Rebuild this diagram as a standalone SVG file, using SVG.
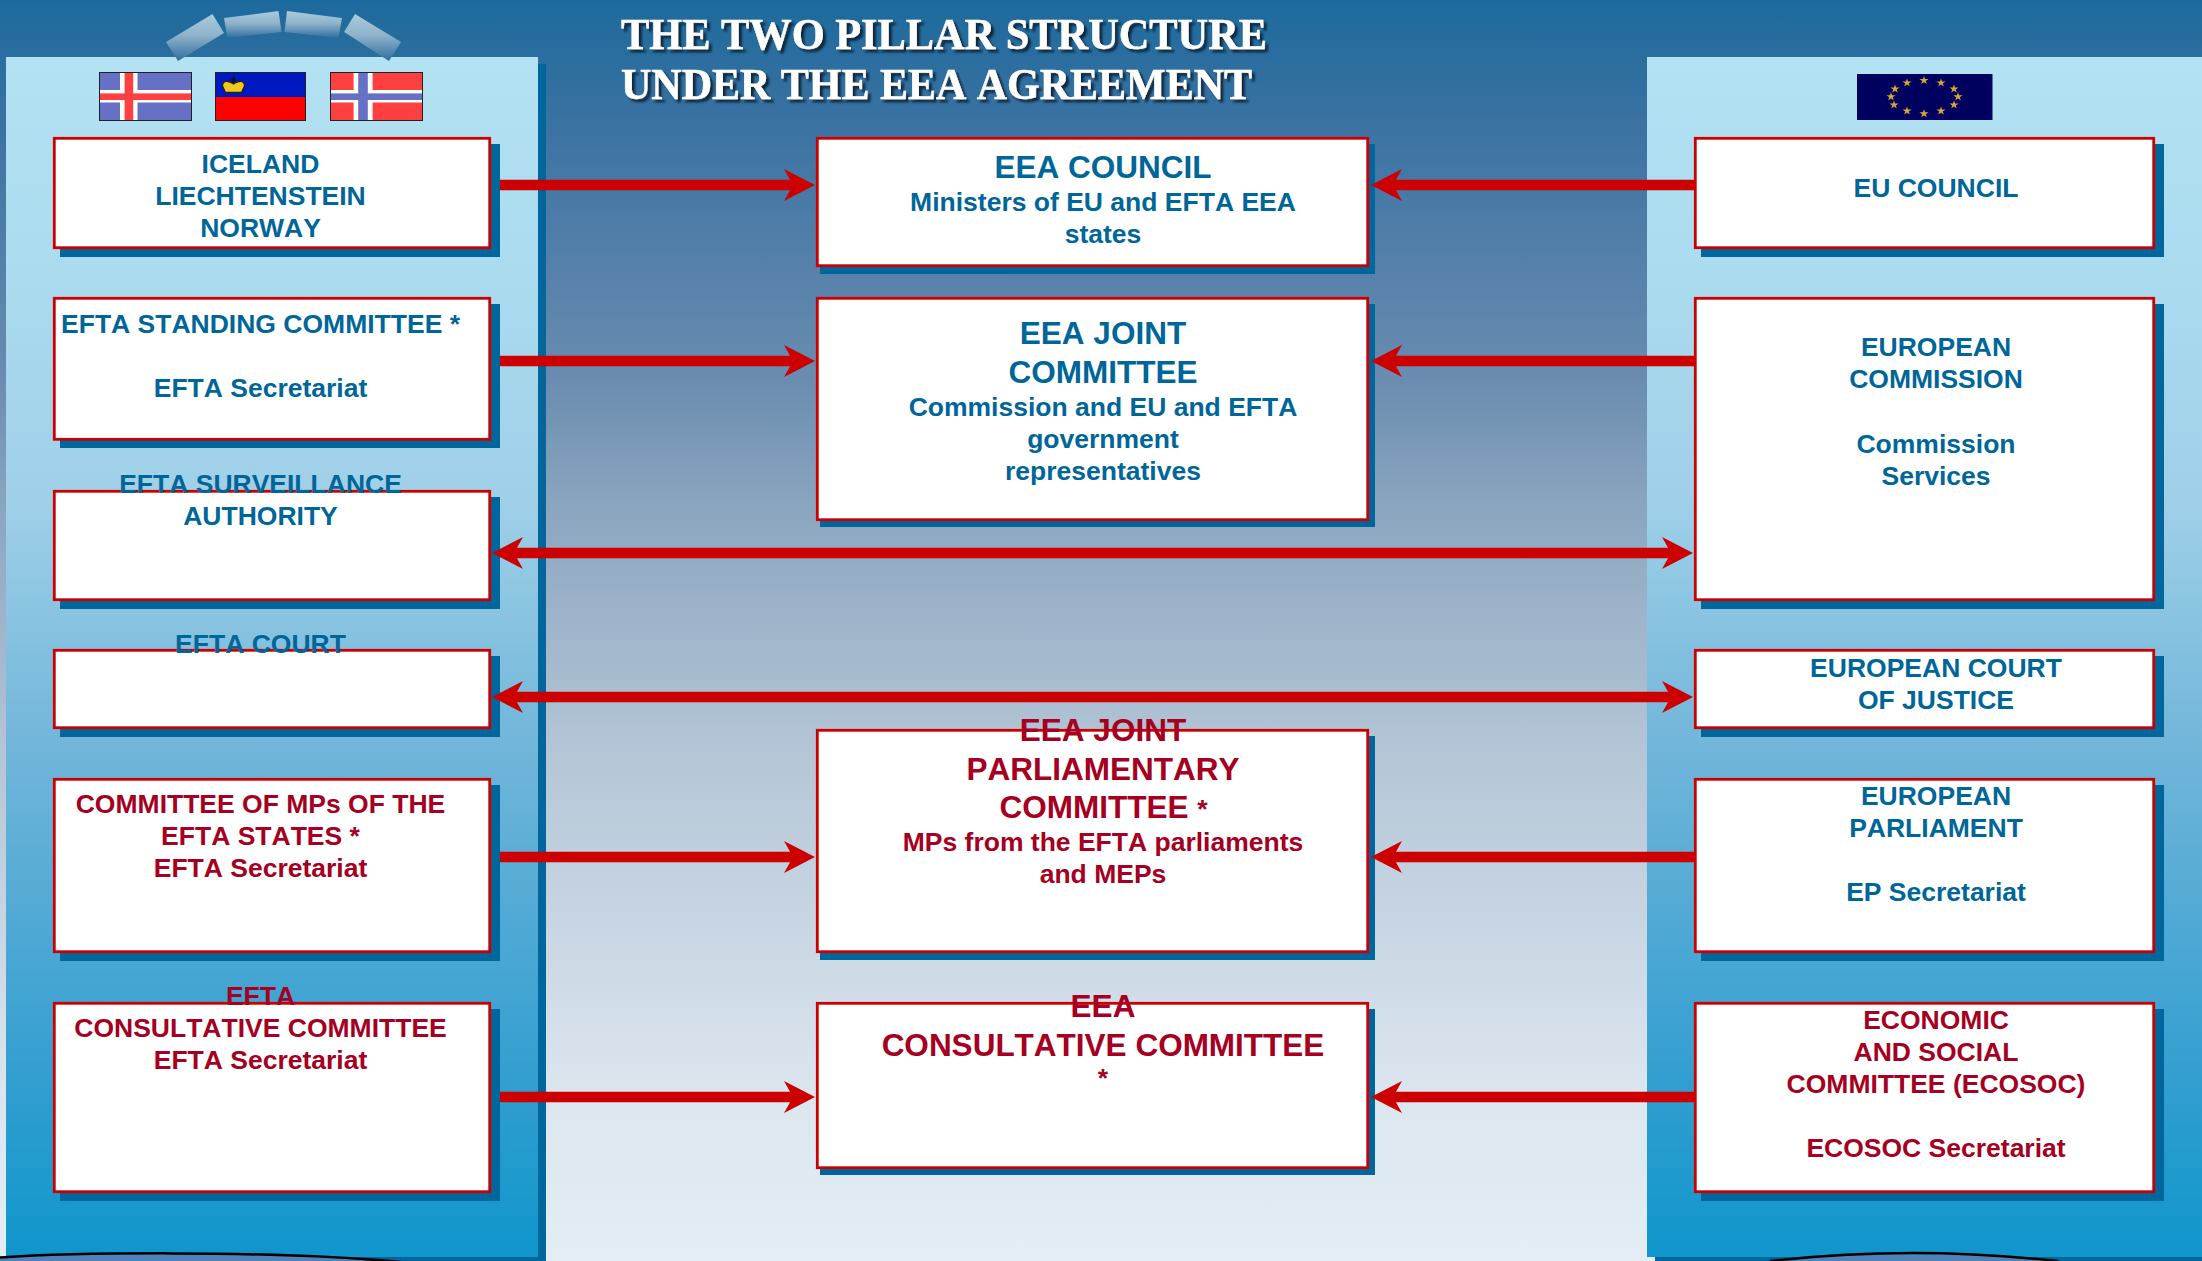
<svg xmlns="http://www.w3.org/2000/svg" xmlns:xlink="http://www.w3.org/1999/xlink" width="2202" height="1261" viewBox="0 0 2202 1261">
<style>
.bx{fill:#fff;stroke:#cc0000;stroke-width:2.8}
.sh{fill:#00669b}
text{font-family:"Liberation Sans",Arial,sans-serif;font-weight:700;text-anchor:middle;font-kerning:none}
.s{font-size:26.5px}
.l{font-size:31.5px}
.b{fill:#006699}
.r{fill:#a50021}
.title{font-family:"Liberation Serif","Times New Roman",serif;font-size:44px;fill:#fff;text-anchor:start;filter:url(#ts);stroke:#fff;stroke-width:.5}
.cn{stroke:#cc0000;stroke-width:10.5;fill:none}
</style>
<defs>
<linearGradient id="bg" x1="0" y1="0" x2="0" y2="1">
<stop offset="0" stop-color="#1c6a9c"/><stop offset=".095" stop-color="#3a72a2"/><stop offset=".3" stop-color="#6a8cb0"/><stop offset=".4" stop-color="#8aa5bf"/><stop offset=".6" stop-color="#b5c6d7"/><stop offset=".87" stop-color="#dce6ef"/><stop offset="1" stop-color="#e3edf3"/>
</linearGradient>
<linearGradient id="pn" gradientUnits="userSpaceOnUse" x1="0" y1="57" x2="0" y2="1257">
<stop offset="0" stop-color="#b3e2f2"/><stop offset=".2" stop-color="#a9daee"/><stop offset=".37" stop-color="#9fd0e8"/><stop offset=".57" stop-color="#72b6da"/><stop offset=".87" stop-color="#2e9dcf"/><stop offset="1" stop-color="#0f96cc"/>
</linearGradient>
<linearGradient id="arc" x1="0" y1="0" x2="0" y2="1">
<stop offset="0" stop-color="#a9cbdc"/><stop offset=".45" stop-color="#8fb3cb"/><stop offset="1" stop-color="#2f6f9f"/>
</linearGradient>
<filter id="ts" x="-5%" y="-20%" width="110%" height="140%"><feDropShadow dx="3" dy="3" stdDeviation="1.3" flood-color="#0c2238" flood-opacity=".95"/></filter>
<marker id="ah" viewBox="0 0 31 32" markerWidth="31" markerHeight="32" refX="19" refY="16" orient="auto-start-reverse" markerUnits="userSpaceOnUse"><path d="M0 0L31 16L0 32L9 16Z" fill="#cc0000"/></marker>
<polygon id="star" points="0,-4.4 1.1,-1.4 4.6,-1.4 1.8,.6 2.8,3.6 0,1.8 -2.8,3.6 -1.8,.6 -4.6,-1.4 -1.1,-1.4" fill="#d8a23a"/>
</defs>
<rect width="2202" height="1261" fill="url(#bg)"/>
<g id="left-pillar">
<rect x="12" y="64" width="534" height="1197" class="sh"/>
<rect x="6" y="57" width="532" height="1200" fill="url(#pn)"/>
<path d="M-20 1259C60 1252 270 1250 400 1262V1263H-20Z" fill="#4f81bb" stroke="#000" stroke-width="2.5"/>
</g>
<g id="right-pillar">
<rect x="1655" y="64" width="547" height="1197" class="sh"/>
<rect x="1647" y="57" width="555" height="1200" fill="url(#pn)"/>
<path d="M1771 1261Q1911 1245 2057 1261V1263H1771Z" fill="#4f81bb" stroke="#000" stroke-width="2.5"/>
</g>
<g id="arch">
<polygon points="166,42 212.5,14 224,33 178,61" fill="url(#arc)"/>
<polygon points="224,18 278.5,11 281.5,32 227.5,38" fill="url(#arc)"/>
<polygon points="287,11 342,18 338.5,38 284.5,32" fill="url(#arc)"/>
<polygon points="355,14 401,42 389,61 344,32" fill="url(#arc)"/>
</g>
<g id="title">
<text class="title" x="621" y="49" textLength="646" lengthAdjust="spacingAndGlyphs">THE TWO PILLAR STRUCTURE</text>
<text class="title" x="621" y="99" textLength="631" lengthAdjust="spacingAndGlyphs">UNDER THE EEA AGREEMENT</text>
</g>
<g id="flag-iceland">
<rect x="99.5" y="72.5" width="92" height="48" fill="#6670c4" stroke="#222"/>
<rect x="120" y="73" width="17.5" height="47" fill="#fff"/><rect x="100" y="90" width="91" height="12.5" fill="#fff"/>
<rect x="124.6" y="73" width="8.6" height="47" fill="#ff4040"/><rect x="100" y="93.4" width="91" height="6.6" fill="#ff4040"/>
</g>
<g id="flag-liechtenstein">
<rect x="215.5" y="72.5" width="90" height="24.5" fill="#0018c0"/><rect x="215.5" y="97" width="90" height="24" fill="#ff0000"/>
<rect x="215.5" y="72.5" width="90" height="48" fill="none" stroke="#222"/>
<path d="M222.5 86Q222.5 80.5 228 81.5Q231 82 233.5 84Q236 82 239 81.5Q244.5 80.5 244.5 86L241.5 92.5H225.5Z" fill="#f2c81e" stroke="#222" stroke-width="1.3"/>
<path d="M233.5 76.5L236 80L233.5 83L231 80Z" fill="#111"/>
</g>
<g id="flag-norway">
<rect x="330.5" y="72.5" width="92" height="48" fill="#ff4040" stroke="#222"/>
<rect x="353.6" y="73" width="19" height="47" fill="#fff"/><rect x="331" y="90" width="91" height="12.5" fill="#fff"/>
<rect x="358.2" y="73" width="9.6" height="47" fill="#6670c4"/><rect x="331" y="93.4" width="91" height="6.6" fill="#6670c4"/>
</g>
<g id="flag-eu">
<rect x="1857" y="74" width="135.5" height="46" fill="#00005f"/>
<use xlink:href="#star" href="#star" x="1924" y="80.5"/>
<use xlink:href="#star" href="#star" x="1941" y="82.8"/>
<use xlink:href="#star" href="#star" x="1954" y="89"/>
<use xlink:href="#star" href="#star" x="1958" y="96.7"/>
<use xlink:href="#star" href="#star" x="1954" y="104.8"/>
<use xlink:href="#star" href="#star" x="1941" y="111"/>
<use xlink:href="#star" href="#star" x="1924" y="113.7"/>
<use xlink:href="#star" href="#star" x="1907" y="111"/>
<use xlink:href="#star" href="#star" x="1894" y="104.8"/>
<use xlink:href="#star" href="#star" x="1891" y="96.7"/>
<use xlink:href="#star" href="#star" x="1895" y="89"/>
<use xlink:href="#star" href="#star" x="1907" y="82.8"/>
</g>
<g id="n-iceland">
<rect class="sh" x="60" y="144" width="440" height="113"/><rect class="bx" x="54.3" y="138.3" width="435.4" height="109.4"/>
<text class="s b" x="260.5" y="172.7">ICELAND</text><text class="s b" x="260.5" y="204.7">LIECHTENSTEIN</text><text class="s b" x="260.5" y="236.7">NORWAY</text>
</g>
<g id="n-standing">
<rect class="sh" x="60" y="304" width="440" height="144"/><rect class="bx" x="54.3" y="298.3" width="435.4" height="141"/>
<text class="s b" x="260.5" y="332.7">EFTA STANDING COMMITTEE *</text><text class="s b" x="260.5" y="396.7">EFTA Secretariat</text>
</g>
<g id="n-surveillance">
<rect class="sh" x="60" y="497" width="440" height="112"/><rect class="bx" x="54.3" y="491.3" width="435.4" height="108.4"/>
<text class="s b" x="260.5" y="492.7">EFTA SURVEILLANCE</text><text class="s b" x="260.5" y="524.7">AUTHORITY</text>
</g>
<g id="n-court">
<rect class="sh" x="60" y="656" width="440" height="81"/><rect class="bx" x="54.3" y="650.3" width="435.4" height="77.4"/>
<text class="s b" x="260.5" y="652.7">EFTA COURT</text>
</g>
<g id="n-mps">
<rect class="sh" x="60" y="785" width="440" height="176"/><rect class="bx" x="54.3" y="779.3" width="435.4" height="172.4"/>
<text class="s r" x="260.5" y="812.7">COMMITTEE OF MPs OF THE</text><text class="s r" x="260.5" y="844.7">EFTA STATES *</text><text class="s r" x="260.5" y="876.7">EFTA Secretariat</text>
</g>
<g id="n-efta-cc">
<rect class="sh" x="60" y="1009" width="440" height="192"/><rect class="bx" x="54.3" y="1003.3" width="435.4" height="188.4"/>
<text class="s r" x="260.5" y="1004.7">EFTA</text><text class="s r" x="260.5" y="1036.7">CONSULTATIVE COMMITTEE</text><text class="s r" x="260.5" y="1068.7">EFTA Secretariat</text>
</g>
<g id="n-council">
<rect class="sh" x="820" y="144" width="555" height="130"/><rect class="bx" x="817.3" y="138.3" width="550.4" height="127.4"/>
<text class="l b" x="1103" y="178">EEA COUNCIL</text><text class="s b" x="1103" y="210.5">Ministers of EU and EFTA EEA</text><text class="s b" x="1103" y="243">states</text>
</g>
<g id="n-joint">
<rect class="sh" x="820" y="304" width="555" height="223"/><rect class="bx" x="817.3" y="298.3" width="550.4" height="221.4"/>
<text class="l b" x="1103" y="344">EEA JOINT</text><text class="l b" x="1103" y="383">COMMITTEE</text><text class="s b" x="1103" y="416">Commission and EU and EFTA</text><text class="s b" x="1103" y="448">government</text><text class="s b" x="1103" y="480">representatives</text>
</g>
<g id="n-jpc">
<rect class="sh" x="820" y="736" width="555" height="224"/><rect class="bx" x="817.3" y="730.3" width="550.4" height="221.4"/>
<text class="l r" x="1103" y="741">EEA JOINT</text><text class="l r" x="1103" y="780">PARLIAMENTARY</text><text class="l r" x="1103.5" y="817.5">COMMITTEE <tspan class="s">*</tspan></text><text class="s r" x="1103" y="850.7">MPs from the EFTA parliaments</text><text class="s r" x="1103" y="882.7">and MEPs</text>
</g>
<g id="n-eea-cc">
<rect class="sh" x="820" y="1009" width="555" height="166"/><rect class="bx" x="817.3" y="1003.3" width="550.4" height="164.4"/>
<text class="l r" x="1103" y="1016.5">EEA</text><text class="l r" x="1103" y="1055.5">CONSULTATIVE COMMITTEE</text><text class="s r" x="1103" y="1087">*</text>
</g>
<g id="n-eu-council">
<rect class="sh" x="1701" y="144" width="463" height="113"/><rect class="bx" x="1695.3" y="138.3" width="458.4" height="109.4"/>
<text class="s b" x="1936" y="197">EU COUNCIL</text>
</g>
<g id="n-commission">
<rect class="sh" x="1701" y="304" width="463" height="305"/><rect class="bx" x="1695.3" y="298.3" width="458.4" height="301.4"/>
<text class="s b" x="1936" y="355.7">EUROPEAN</text><text class="s b" x="1936" y="387.7">COMMISSION</text><text class="s b" x="1936" y="452.7">Commission</text><text class="s b" x="1936" y="484.7">Services</text>
</g>
<g id="n-ecj">
<rect class="sh" x="1701" y="656" width="463" height="81"/><rect class="bx" x="1695.3" y="650.3" width="458.4" height="77.4"/>
<text class="s b" x="1936" y="677">EUROPEAN COURT</text><text class="s b" x="1936" y="709">OF JUSTICE</text>
</g>
<g id="n-ep">
<rect class="sh" x="1701" y="785" width="463" height="176"/><rect class="bx" x="1695.3" y="779.3" width="458.4" height="172.4"/>
<text class="s b" x="1936" y="805">EUROPEAN</text><text class="s b" x="1936" y="837">PARLIAMENT</text><text class="s b" x="1936" y="901">EP Secretariat</text>
</g>
<g id="n-ecosoc">
<rect class="sh" x="1701" y="1009" width="463" height="192"/><rect class="bx" x="1695.3" y="1003.3" width="458.4" height="188.4"/>
<text class="s r" x="1936" y="1028.7">ECONOMIC</text><text class="s r" x="1936" y="1060.7">AND SOCIAL</text><text class="s r" x="1936" y="1092.7">COMMITTEE (ECOSOC)</text><text class="s r" x="1936" y="1156.7">ECOSOC Secretariat</text>
</g>
<g id="connectors">
<line class="cn" x1="500" y1="185" x2="803" y2="185" marker-end="url(#ah)"/>
<line class="cn" x1="1694" y1="185" x2="1383" y2="185" marker-end="url(#ah)"/>
<line class="cn" x1="500" y1="361" x2="803" y2="361" marker-end="url(#ah)"/>
<line class="cn" x1="1694" y1="361" x2="1383" y2="361" marker-end="url(#ah)"/>
<line class="cn" x1="504" y1="553" x2="1681" y2="553" marker-start="url(#ah)" marker-end="url(#ah)"/>
<line class="cn" x1="504" y1="697" x2="1681" y2="697" marker-start="url(#ah)" marker-end="url(#ah)"/>
<line class="cn" x1="500" y1="857" x2="803" y2="857" marker-end="url(#ah)"/>
<line class="cn" x1="1694" y1="857" x2="1383" y2="857" marker-end="url(#ah)"/>
<line class="cn" x1="500" y1="1097" x2="803" y2="1097" marker-end="url(#ah)"/>
<line class="cn" x1="1694" y1="1097" x2="1383" y2="1097" marker-end="url(#ah)"/>
</g>
</svg>
